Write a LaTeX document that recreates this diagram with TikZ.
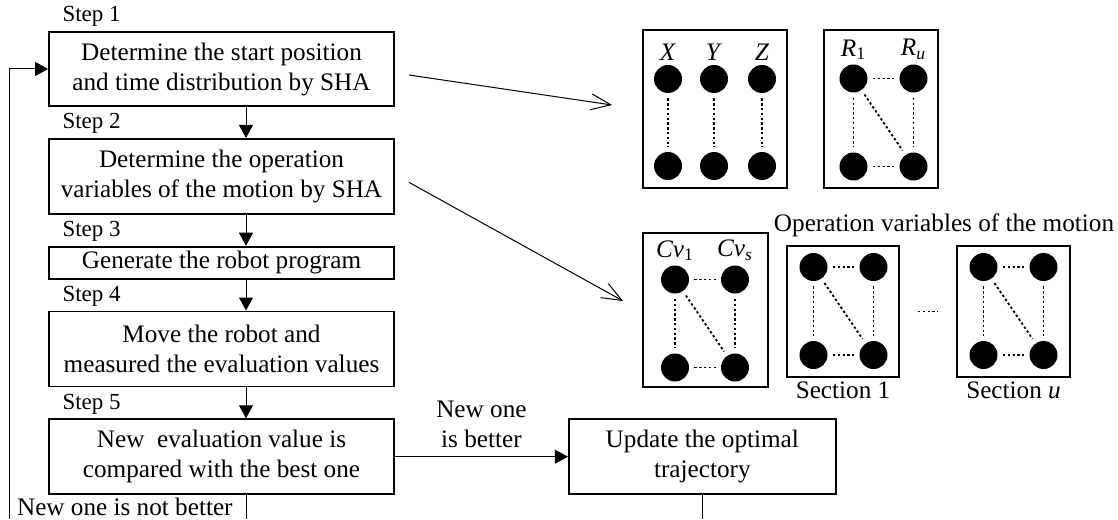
\documentclass[tikz,border=0pt]{standalone}
\usepackage{fontspec}
\setmainfont{Liberation Serif}
\usetikzlibrary{positioning,calc,arrows.meta}

\tikzset{
  stepbox/.style={draw, line width=0.9pt, align=center, minimum width=172.5pt,
    inner sep=0pt, font=\fontsize{12.6}{15}\selectfont},
  steplbl/.style={font=\fontsize{11.5}{13}\selectfont, inner sep=2pt},
  txt/.style={font=\fontsize{12.6}{15}\selectfont, inner sep=1pt},
  flowarrow/.style={line width=0.5pt, -{Triangle[length=6.5pt,width=7pt]}},
  pointer/.style={line width=0.5pt, -{Straight Barb[length=10pt,width=8pt]}},
  netframe/.style={draw, line width=0.9pt, inner sep=0pt},
  vertex/.style={circle, fill, inner sep=0pt, minimum size=14pt},
  dotline/.style={line width=0.9pt, dash pattern=on 1.2pt off 1.2pt,
    shorten <=2.5pt, shorten >=2.5pt},
}

\begin{document}
\begin{tikzpicture}[x=0.5pt, y=-0.5pt]
    \useasboundingbox (0,0) rectangle (1118,519);

    % flow chart on the left
    \node[stepbox, minimum height=37pt] (det) at (221.5,69)
    {Determine the start position\\and time distribution by SHA};
    \node[stepbox, minimum height=37.5pt, below=15.5pt of det] (opvar)
    {Determine the operation\\variables of the motion by SHA};
    \node[stepbox, minimum height=16pt, below=15.5pt of opvar] (gen)
    {Generate the robot program};
    \node[stepbox, minimum height=37.5pt, below=15.5pt of gen] (move)
    {Move the robot and\\measured the evaluation values};
    \node[stepbox, minimum height=37.5pt, below=15.5pt of move] (comp)
    {New\ \ evaluation value is\\compared with the best one};
    \node[stepbox, minimum width=133.5pt, minimum height=37.5pt,
    right=86.5pt of comp] (upd) {Update the optimal\\trajectory};

    \foreach \b/\s in {det/1, opvar/2, gen/3, move/4, comp/5}
    \node[steplbl, above right=0pt and 5pt of \b.north west] (step\s) {Step \s};

    \coordinate (axis) at (246,0);
    \draw[flowarrow] (det.south -| axis) -- (opvar.north -| axis);
    \draw[flowarrow] (opvar.south -| axis) -- (gen.north -| axis);
    \draw[flowarrow] (gen.south -| axis) -- (move.north -| axis);
    \draw[flowarrow] (move.south -| axis) -- (comp.north -| axis);
    \draw[flowarrow] (comp) -- (upd)
    node[txt, midway, above=3pt, align=center] (better) {New one\\is better};

    \coordinate (fb) at (9,519);
    \coordinate (compend) at (axis |- fb);
    \coordinate (updend) at (upd.south |- fb);
    \draw[flowarrow] (fb) |- (det.west);
    \draw[line width=0.5pt] (comp.south -| axis) -- (compend);
    \draw[line width=0.5pt] (upd) -- (updend);
    \node[txt, anchor=north east] (notbetter) at ($(comp.south -| axis)+(-11,1)$)
    {New one is not better};

    % variable nets on the right
    \node[netframe, minimum width=72pt, minimum height=79pt] (xyz) at (715,109) {};
    \node[netframe, minimum width=57pt, minimum height=79pt] (rob) at (881,109) {};
    \node[netframe, minimum width=62.5pt, minimum height=77pt] (cvb) at (705.5,310) {};
    \node[netframe, minimum width=56pt, minimum height=65.5pt] (seca) at (843,311.5) {};
    \node[netframe, minimum width=56.5pt, minimum height=65.5pt] (secb) at (1013.5,311.5) {};

    \foreach \n/\x/\l in {x/668/X, y/714/Y, z/762/Z} {
      \node[vertex] (\n-a) at (\x,79) {};
      \node[vertex] (\n-c) at (\x,166) {};
      \node[txt, above=1pt of \n-a] (lbl\n) {\textit{\l}};
      \draw[dotline] (\n-a) -- (\n-c);
    }

    \foreach \nm/\cx/\cy in {rob/883.5/122.5, cvb/705/323.5, seca/843.5/311, secb/1013.5/311} {
      \node[vertex] (\nm-a) at (\cx-30,\cy-44) {};
      \node[vertex] (\nm-b) at (\cx+30,\cy-44) {};
      \node[vertex] (\nm-c) at (\cx-30,\cy+44) {};
      \node[vertex] (\nm-d) at (\cx+30,\cy+44) {};
      \draw[dotline] (\nm-a) -- (\nm-b);
      \draw[dotline] (\nm-c) -- (\nm-d);
      \draw[dotline] (\nm-a) -- (\nm-c);
      \draw[dotline] (\nm-b) -- (\nm-d);
      \draw[dotline] (\nm-a) -- (\nm-d);
    }

    \node[txt, above=1pt of rob-a] (lblra) {\textit{R}\textsubscript{1}};
    \node[txt, above=1pt of rob-b] (lblrb) {\textit{R}\textsubscript{\textit{u}}};
    \node[txt, above=1pt of cvb-a] (lblca) {\textit{Cv}\textsubscript{1}};
    \node[txt, above=1pt of cvb-b] (lblcb) {\textit{Cv}\textsubscript{\textit{s}}};

    \node[txt] (optitle) at (944,225) {Operation variables of the motion};
    \node[txt, below=1pt of seca] (lblsa) {Section 1};
    \node[txt, below=1pt of secb] (lblsb) {Section \textit{u}};
    \coordinate (more) at ($(seca.east)!0.5!(secb.west)$);
    \draw[dotline, shorten <=0pt, shorten >=0pt] ([xshift=-5pt]more) -- ([xshift=5pt]more);

    \draw[pointer] ($(det.east)+(14,6)$) -- ($(xyz.west)+(-30,-4)$);
    \draw[pointer] ($(opvar.east)+(14,6)$) -- ($(cvb.west)+(-19,-9)$);
  \end{tikzpicture}
\end{document}
